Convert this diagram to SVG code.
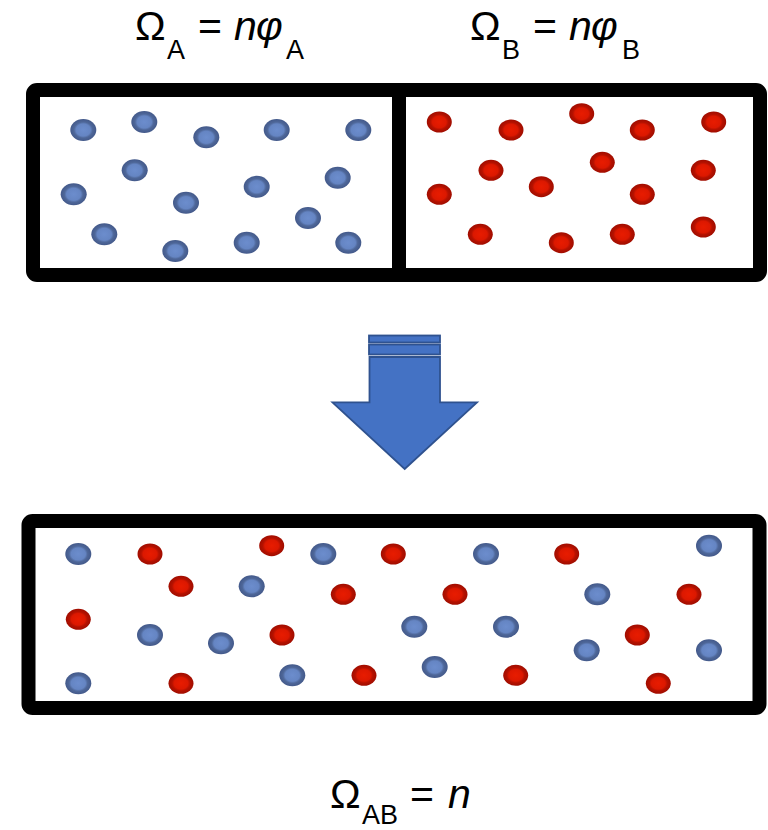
<svg xmlns="http://www.w3.org/2000/svg" xmlns:xlink="http://www.w3.org/1999/xlink" width="768" height="830" viewBox="0 0 768 830">
<style>
  .lbl { font-family: "Liberation Sans", Arial, sans-serif; fill: #000; }
  .main { font-size: 41px; }
  .sub { font-size: 27px; }
  .it { font-style: italic; }
  .box { fill: #fff; stroke: #000; stroke-width: 14; }
  .arrow { fill: #4472C4; stroke: #2F528F; stroke-width: 1.8; }
</style>
<defs>
  <radialGradient id="gBlue" cx="0.5" cy="0.5" r="0.5">
    <stop offset="0" stop-color="#6C8DCD"/>
    <stop offset="0.55" stop-color="#6585C3"/>
    <stop offset="0.72" stop-color="#4E6799"/>
    <stop offset="1" stop-color="#43598A"/>
  </radialGradient>
  <radialGradient id="gRed" cx="0.5" cy="0.5" r="0.5">
    <stop offset="0" stop-color="#E81C00"/>
    <stop offset="0.55" stop-color="#DC1800"/>
    <stop offset="0.72" stop-color="#B51100"/>
    <stop offset="1" stop-color="#A00D00"/>
  </radialGradient>
  <ellipse id="b" cx="0" cy="0" rx="13" ry="11" fill="url(#gBlue)"/>
  <ellipse id="r" cx="0" cy="0" rx="12.5" ry="10.5" fill="url(#gRed)"/>
</defs>
<rect width="768" height="830" fill="#fff"/>

<g id="label-A">
  <text class="lbl main" x="135" y="39.5">Ω</text>
  <text class="lbl sub" x="167" y="58.5">A</text>
  <text class="lbl main" x="198" y="39.5">=</text>
  <text class="lbl main it" x="234" y="39.5">n</text>
  <text class="lbl main it" x="256" y="39.5">φ</text>
  <text class="lbl sub" x="286" y="58.5">A</text>
</g>
<g id="label-B">
  <text class="lbl main" x="470" y="39.5">Ω</text>
  <text class="lbl sub" x="502" y="58.5">B</text>
  <text class="lbl main" x="533" y="39.5">=</text>
  <text class="lbl main it" x="569" y="39.5">n</text>
  <text class="lbl main it" x="591" y="39.5">φ</text>
  <text class="lbl sub" x="622" y="58.5">B</text>
</g>

<g id="box-top">
  <rect class="box" x="33" y="90" width="727" height="185" rx="4"/>
  <line x1="399" y1="90" x2="399" y2="275" stroke="#000" stroke-width="14"/>
</g>

<g id="particles-A">
  <use xlink:href="#b" x="83.3" y="130"/>
  <use xlink:href="#b" x="144.3" y="122"/>
  <use xlink:href="#b" x="206.3" y="137.3"/>
  <use xlink:href="#b" x="276.7" y="130"/>
  <use xlink:href="#b" x="358.3" y="130"/>
  <use xlink:href="#b" x="134.7" y="170.3"/>
  <use xlink:href="#b" x="73.7" y="194.3"/>
  <use xlink:href="#b" x="186" y="202.7"/>
  <use xlink:href="#b" x="256.7" y="186.7"/>
  <use xlink:href="#b" x="337.7" y="177.7"/>
  <use xlink:href="#b" x="104.3" y="234.3"/>
  <use xlink:href="#b" x="175.3" y="251"/>
  <use xlink:href="#b" x="246.7" y="242.7"/>
  <use xlink:href="#b" x="308" y="218"/>
  <use xlink:href="#b" x="348.3" y="242.7"/>
</g>

<g id="particles-B">
  <use xlink:href="#r" x="439.3" y="122"/>
  <use xlink:href="#r" x="511" y="130"/>
  <use xlink:href="#r" x="581.7" y="113.7"/>
  <use xlink:href="#r" x="642.3" y="130"/>
  <use xlink:href="#r" x="713.7" y="122"/>
  <use xlink:href="#r" x="491" y="170.3"/>
  <use xlink:href="#r" x="602.3" y="162.3"/>
  <use xlink:href="#r" x="703.3" y="170.3"/>
  <use xlink:href="#r" x="439.3" y="194.3"/>
  <use xlink:href="#r" x="541.3" y="186.7"/>
  <use xlink:href="#r" x="642.3" y="194.3"/>
  <use xlink:href="#r" x="480.3" y="234.3"/>
  <use xlink:href="#r" x="561.3" y="242.7"/>
  <use xlink:href="#r" x="622.3" y="234.3"/>
  <use xlink:href="#r" x="703.3" y="227"/>
</g>

<g id="connectors">
  <rect class="arrow" x="369" y="335.5" width="71" height="7"/>
  <rect class="arrow" x="369" y="344.5" width="71" height="10"/>
  <polygon class="arrow" points="369.5,357 440,357 440,402.3 477,402.3 404.7,469 332.5,402.3 369.5,402.3"/>
</g>

<g id="box-bottom">
  <rect class="box" x="28.5" y="521" width="731" height="187" rx="4"/>
</g>

<g id="particles-mixed">
  <use xlink:href="#b" x="78.3" y="554"/>
  <use xlink:href="#b" x="323.3" y="554"/>
  <use xlink:href="#b" x="251.7" y="586.3"/>
  <use xlink:href="#b" x="150" y="635"/>
  <use xlink:href="#b" x="221" y="643.3"/>
  <use xlink:href="#b" x="78.3" y="683.3"/>
  <use xlink:href="#b" x="292.3" y="675.3"/>
  <use xlink:href="#r" x="150" y="554"/>
  <use xlink:href="#r" x="271.7" y="545.7"/>
  <use xlink:href="#r" x="181" y="586.3"/>
  <use xlink:href="#r" x="343.3" y="594.3"/>
  <use xlink:href="#r" x="78.3" y="619.3"/>
  <use xlink:href="#r" x="282" y="635"/>
  <use xlink:href="#r" x="181" y="683.3"/>
  <use xlink:href="#r" x="364" y="675.3"/>
  <use xlink:href="#r" x="393.3" y="554"/>
  <use xlink:href="#r" x="566.7" y="554"/>
  <use xlink:href="#r" x="455" y="594.3"/>
  <use xlink:href="#r" x="689" y="594.3"/>
  <use xlink:href="#r" x="637.3" y="635"/>
  <use xlink:href="#r" x="515.7" y="675.3"/>
  <use xlink:href="#r" x="658.3" y="683.3"/>
  <use xlink:href="#b" x="486" y="554"/>
  <use xlink:href="#b" x="709" y="545.7"/>
  <use xlink:href="#b" x="597.3" y="594.3"/>
  <use xlink:href="#b" x="414.3" y="626.7"/>
  <use xlink:href="#b" x="506" y="626.7"/>
  <use xlink:href="#b" x="586.7" y="650.3"/>
  <use xlink:href="#b" x="709" y="650.3"/>
  <use xlink:href="#b" x="434.7" y="667"/>
</g>

<g id="label-AB">
  <text class="lbl main" x="330" y="808">Ω</text>
  <text class="lbl sub" x="362" y="824">AB</text>
  <text class="lbl main" x="410" y="808">=</text>
  <text class="lbl main it" x="448" y="808">n</text>
</g>
</svg>
